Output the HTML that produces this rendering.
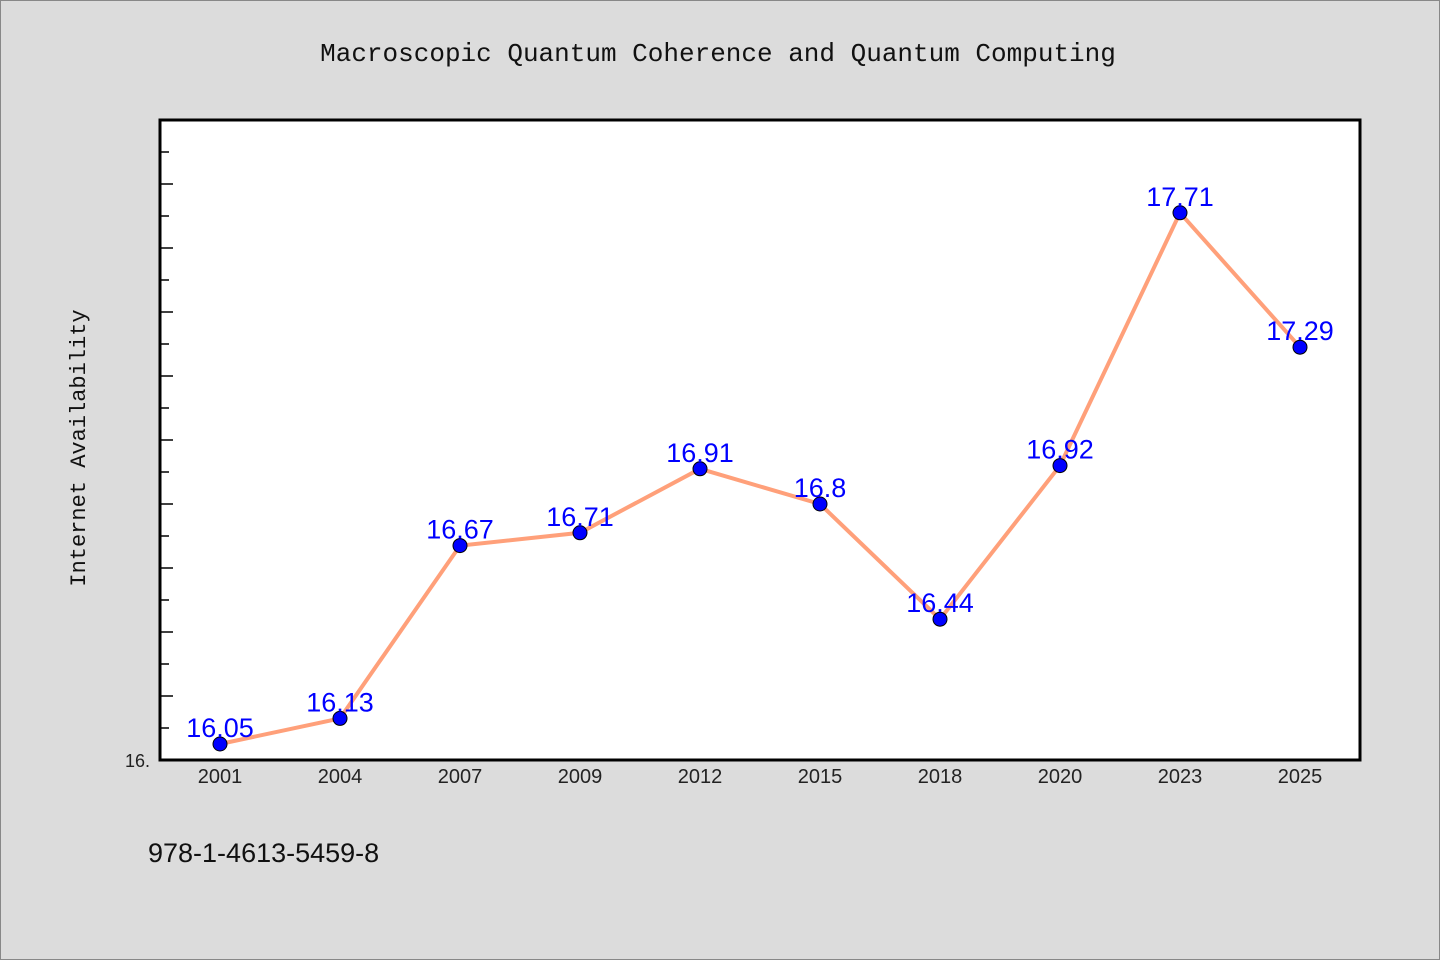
<!DOCTYPE html>
<html><head><meta charset="utf-8"><style>
body{margin:0;background:#dcdcdc;}
svg{display:block;font-family:"Liberation Sans","WenQuanYi Zen Hei",sans-serif;}
</style></head><body>
<svg width="1440" height="960">
<rect x="0.5" y="0.5" width="1439" height="959" fill="#dcdcdc" stroke="#888"/>
<text x="718" y="61" text-anchor="middle" font-size="26" font-family="'Liberation Mono','WenQuanYi Zen Hei',monospace" fill="#111">Macroscopic Quantum Coherence and Quantum Computing</text>
<rect x="160" y="120" width="1200" height="640" fill="#fff" stroke="#000" stroke-width="3"/>
<g id="ticks"></g>
<g id="xlabels"></g>
<polyline id="line" fill="none" stroke="#ffa07a" stroke-width="4"/>
<g id="points"></g>
<text x="85" y="448" transform="rotate(-90 85 448)" text-anchor="middle" font-size="22" font-family="'Liberation Mono','WenQuanYi Zen Hei',monospace" fill="#111">Internet Availability</text>
<text x="125" y="767" font-size="18" fill="#222">16.</text>
<text x="148" y="862" font-size="27" fill="#111">978-1-4613-5459-8</text>
</svg>
<script>
const categories=["2001","2004","2007","2009","2012","2015","2018","2020","2023","2025"];
const values=[16.05,16.13,16.67,16.71,16.91,16.8,16.44,16.92,17.71,17.29];
const labels=["16.05","16.13","16.67","16.71","16.91","16.8","16.44","16.92","17.71","17.29"];
const yMin=16,yMax=18;
const NS="http://www.w3.org/2000/svg";
const x=i=>160+60+i*120;
const y=v=>760-(v-yMin)/(yMax-yMin)*640;
const tg=document.getElementById('ticks');
for(let k=1;k<20;k++){const t=document.createElementNS(NS,'line');const yy=y(yMin+k*0.1);
t.setAttribute('x1',160);t.setAttribute('x2',k%2?169:173);t.setAttribute('y1',yy);t.setAttribute('y2',yy);t.setAttribute('stroke','#000');t.setAttribute('stroke-width','1.5');


tg.appendChild(t);}
const xl=document.getElementById('xlabels');
categories.forEach((c,i)=>{const t=document.createElementNS(NS,'text');t.setAttribute('x',x(i));t.setAttribute('y',783);t.setAttribute('text-anchor','middle');t.setAttribute('font-size','20');t.setAttribute('fill','#222');t.textContent=c;


xl.appendChild(t);});
document.getElementById('line').setAttribute('points',values.map((v,i)=>x(i)+','+y(v)).join(' '));
const pg=document.getElementById('points');
values.forEach((v,i)=>{const c=document.createElementNS(NS,'circle');c.setAttribute('cx',x(i));c.setAttribute('cy',y(v));c.setAttribute('r',7);c.setAttribute('fill','#0000ff');c.setAttribute('stroke','#000');c.setAttribute('stroke-width','1');


pg.appendChild(c);
const t=document.createElementNS(NS,'text');t.setAttribute('x',x(i));t.setAttribute('y',y(v)-7);t.setAttribute('text-anchor','middle');t.setAttribute('font-size','27');t.setAttribute('fill','#0000ff');t.textContent=labels[i];


pg.appendChild(t);});
</script>
</body></html>
